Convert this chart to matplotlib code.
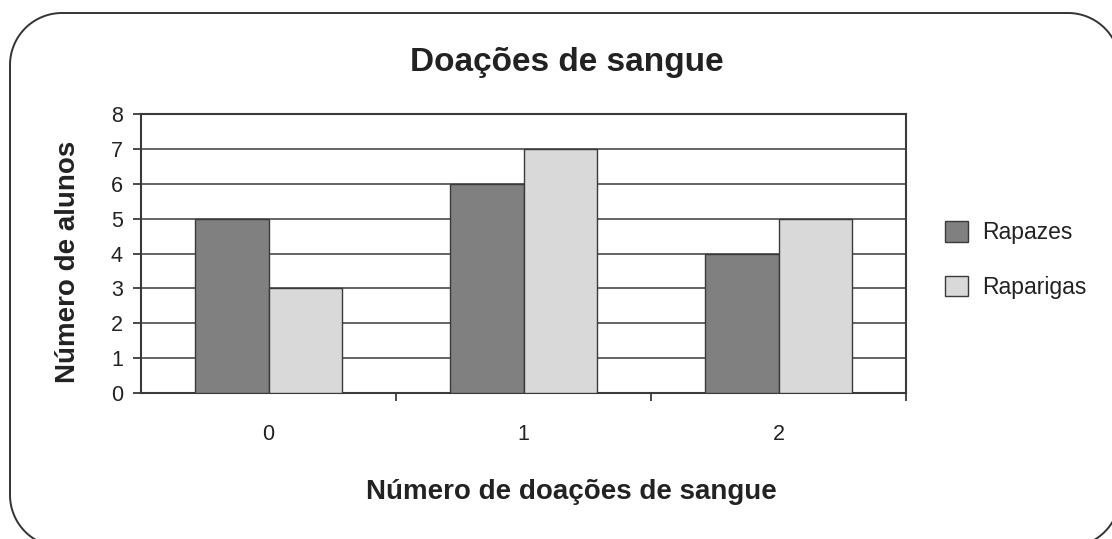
import numpy as np
import matplotlib.pyplot as plt
from matplotlib.patches import PathPatch, Patch
from matplotlib.path import Path

plt.rcParams['font.family'] = ['Liberation Sans', 'DejaVu Sans']

categorias = ['0', '1', '2']
rapazes = [5, 6, 4]
raparigas = [3, 7, 5]

cor_rapazes = '#808080'
cor_raparigas = '#d9d9d9'
cor_linha = '#3a3a3a'
cor_texto = '#222222'


def retangulo_arredondado(x0, y0, x1, y1, r, n=30):
    # contorno em pixels, y para baixo
    cantos = [(x1 - r, y0 + r, -90, 0), (x1 - r, y1 - r, 0, 90),
              (x0 + r, y1 - r, 90, 180), (x0 + r, y0 + r, 180, 270)]
    pts = []
    for cx, cy, a0, a1 in cantos:
        t = np.radians(np.linspace(a0, a1, n))
        pts += list(zip(cx + r * np.cos(t), cy + r * np.sin(t)))
    pts.append(pts[0])
    return Path(pts)


fig = plt.figure(figsize=(11.12, 5.39), dpi=100)

bg = fig.add_axes([0, 0, 1, 1], zorder=0)
bg.set_xlim(0, 1112)
bg.set_ylim(539, 0)
bg.axis('off')
bg.add_patch(PathPatch(retangulo_arredondado(10, 13, 1120, 547, 52),
                       fill=False, edgecolor='#333333', linewidth=1.4, clip_on=False))

ax = fig.add_axes([141 / 1112, 1 - 393 / 539, 765 / 1112, 279 / 539], zorder=1)
ax.patch.set_alpha(0)

x = np.arange(len(categorias))
w = 0.29
ax.bar(x - w / 2, rapazes, w, color=cor_rapazes, edgecolor=cor_linha, linewidth=1.0, zorder=3)
ax.bar(x + w / 2, raparigas, w, color=cor_raparigas, edgecolor=cor_linha, linewidth=1.0, zorder=3)

ax.set_xlim(-0.5, 2.5)
ax.set_ylim(0, 8)
ax.set_yticks(range(0, 9))
ax.set_xticks(x)
ax.set_xticklabels(categorias)
ax.set_xticks([0.5, 1.5, 2.5], minor=True)
ax.yaxis.grid(True, color=cor_linha, linewidth=1.1, zorder=1)
ax.set_axisbelow(True)

ax.tick_params(axis='x', which='major', length=0, pad=22, labelsize=15.5, labelcolor=cor_texto)
ax.tick_params(axis='x', which='minor', length=6, width=1.3, color=cor_linha, direction='out')
ax.tick_params(axis='y', length=6, width=1.3, color=cor_linha, pad=7, labelsize=15.5, labelcolor=cor_texto)

for lado in ['left', 'right', 'bottom', 'top']:
    ax.spines[lado].set_color(cor_linha)
    ax.spines[lado].set_linewidth(1.5)

ax.set_title('Doações de sangue', fontsize=24, fontweight='bold', color=cor_texto,
             x=0.557, pad=31)
ax.set_ylabel('Número de alunos', fontsize=20, fontweight='bold', color=cor_texto)
ax.yaxis.set_label_coords(-0.078, 0.47)
ax.set_xlabel('Número de doações de sangue', fontsize=20, fontweight='bold', color=cor_texto)
ax.xaxis.set_label_coords(0.563, -0.31)

handles = [Patch(facecolor=cor_rapazes, edgecolor=cor_linha, linewidth=1.0, label='Rapazes'),
           Patch(facecolor=cor_raparigas, edgecolor=cor_linha, linewidth=1.0, label='Raparigas')]
fig.legend(handles=handles, loc='center left', bbox_to_anchor=(934 / 1112, 1 - 260 / 539),
           frameon=False, fontsize=16.5, handlelength=1.0, handleheight=1.0,
           handletextpad=0.6, labelspacing=1.38, borderpad=0, labelcolor=cor_texto)

fig.savefig('out.png', dpi=100)
